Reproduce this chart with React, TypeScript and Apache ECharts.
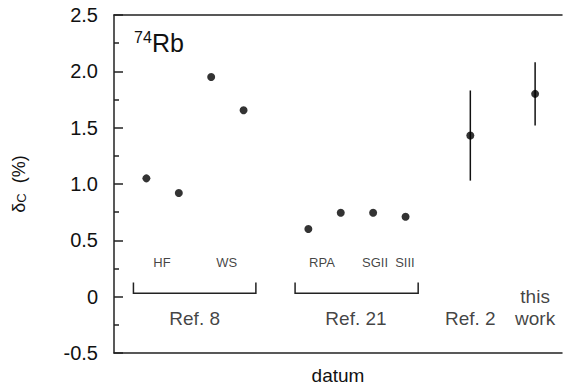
import React, { useEffect, useRef } from "react";
import * as echarts from "echarts";

// data points
const xPos = [1, 2, 3, 4, 6, 7, 8, 9, 11, 13];
const deltaC = [1.05, 0.92, 1.95, 1.655, 0.6, 0.745, 0.745, 0.71, 1.43, 1.8];

// error bars [x, low, high]
const errX = [11, 13];
const errLow = [1.03, 1.52];
const errHigh = [1.83, 2.08];

// brackets grouping references [xStart, xEnd]
const bracketStart = [0.6, 5.59];
const bracketEnd = [4.38, 9.39];
const bracketBase = 0.03;
const bracketTop = 0.126;

// small method labels
const methodNames = ["HF", "WS", "RPA", "SGII", "SIII"];
const methodX = [1.48, 3.48, 6.42, 8.06, 8.98];
const methodY = 0.305;

// reference labels
const refNames = ["Ref. 8", "Ref. 21", "Ref. 2", "this", "work"];
const refX = [2.49, 7.47, 11, 13, 13];
const refY = [-0.19, -0.19, -0.19, 0.0, -0.19];

const yTicks = [-0.5, 0, 0.5, 1.0, 1.5, 2.0, 2.5];

const FONT = "Liberation Sans, Arial, Helvetica, sans-serif";

export default function App() {
  const ref = useRef<HTMLDivElement>(null);
  useEffect(() => {
    if (!ref.current) return;
    const chart = echarts.init(ref.current, null, { renderer: "svg" });
    const axisColor = "#222";
    chart.setOption({
      animation: false,
      backgroundColor: "#fff",
      grid: { left: 114, right: 1, top: 15, bottom: 35 },
      xAxis: [
        {
          type: "value",
          min: 0,
          max: 13.83,
          position: "bottom",
          name: "datum",
          nameLocation: "middle",
          nameGap: 13,
          nameTextStyle: { fontFamily: FONT, fontSize: 19, color: "#111", verticalAlign: "top" },
          axisLine: { show: true, onZero: false, lineStyle: { color: axisColor, width: 1.5 } },
          axisTick: { show: false },
          axisLabel: { show: false },
          splitLine: { show: false },
        },
        {
          type: "value",
          min: 0,
          max: 13.83,
          position: "top",
          axisLine: { show: true, onZero: false, lineStyle: { color: axisColor, width: 1.5 } },
          axisTick: { show: false },
          axisLabel: { show: false },
          splitLine: { show: false },
        },
      ],
      yAxis: {
        type: "value",
        min: yTicks[0],
        max: yTicks[yTicks.length - 1],
        interval: 0.5,
        name: "{d|δ}{s|C}  (%)",
        nameLocation: "middle",
        nameGap: 86,
        nameRotate: 90,
        nameTextStyle: {
          fontFamily: FONT,
          fontSize: 18,
          color: "#111",
          rich: {
            d: { fontFamily: FONT, fontSize: 18, color: "#111" },
            s: { fontFamily: FONT, fontSize: 13, color: "#111", padding: [6, 0, 0, 0] },
          },
        },
        axisLine: { show: true, onZero: false, lineStyle: { color: axisColor, width: 1.5 } },
        axisTick: { show: true, inside: true, length: 9, lineStyle: { color: axisColor, width: 1.5 } },
        minorTick: { show: true, splitNumber: 2, length: 5, lineStyle: { color: axisColor, width: 1.5 } },
        axisLabel: {
          fontFamily: FONT,
          fontSize: 20,
          color: "#111",
          margin: 16,
          formatter: (v: number) => (v === 0 ? "0" : v.toFixed(1)),
        },
        splitLine: { show: false },
      },
      graphic: [
        {
          type: "text",
          left: 134,
          top: 29,
          style: { text: "74", fontFamily: FONT, fontSize: 16, fill: "#111" },
        },
        {
          type: "text",
          left: 152,
          top: 30,
          style: { text: "Rb", fontFamily: FONT, fontSize: 25, fill: "#111" },
        },
      ],
      series: [
        {
          type: "custom",
          xAxisIndex: 0,
          renderItem: (params: any, api: any) => {
            const p1 = api.coord([api.value(0), api.value(1)]);
            const p2 = api.coord([api.value(0), api.value(2)]);
            return {
              type: "line",
              shape: { x1: p1[0], y1: p1[1], x2: p2[0], y2: p2[1] },
              style: { stroke: "#111", lineWidth: 1.5 },
            };
          },
          data: errX.map((x, i) => [x, errLow[i], errHigh[i]]),
          z: 2,
        },
        {
          type: "custom",
          xAxisIndex: 0,
          renderItem: (params: any, api: any) => {
            const x1 = api.value(0), x2 = api.value(1), yb = api.value(2), yt = api.value(3);
            const pts = [
              api.coord([x1, yt]),
              api.coord([x1, yb]),
              api.coord([x2, yb]),
              api.coord([x2, yt]),
            ];
            return {
              type: "polyline",
              shape: { points: pts },
              style: { stroke: "#222", lineWidth: 1.5, fill: "none" },
            };
          },
          data: bracketStart.map((s, i) => [s, bracketEnd[i], bracketBase, bracketTop]),
        },
        {
          type: "scatter",
          xAxisIndex: 0,
          symbol: "circle",
          symbolSize: 8,
          itemStyle: { color: "#000" },
          data: xPos.map((x, i) => [x, deltaC[i]]),
          z: 3,
        },
        {
          type: "scatter",
          xAxisIndex: 0,
          symbolSize: 0,
          silent: true,
          label: {
            show: true,
            position: "inside",
            fontFamily: FONT,
            fontSize: 13,
            color: "#111",
            formatter: (p: any) => p.name,
          },
          data: methodNames.map((n, i) => ({ name: n, value: [methodX[i], methodY] })),
        },
        {
          type: "scatter",
          xAxisIndex: 0,
          symbolSize: 0,
          silent: true,
          label: {
            show: true,
            position: "inside",
            fontFamily: FONT,
            fontSize: 19,
            color: "#111",
            formatter: (p: any) => p.name,
          },
          data: refNames.map((n, i) => ({ name: n, value: [refX[i], refY[i]] })),
        },
      ],
    });
    return () => chart.dispose();
  }, []);
  return (
    <div
      ref={ref}
      style={{ position: "fixed", left: 0, top: 0, width: 563, height: 390, background: "#fff" }}
    />
  );
}
